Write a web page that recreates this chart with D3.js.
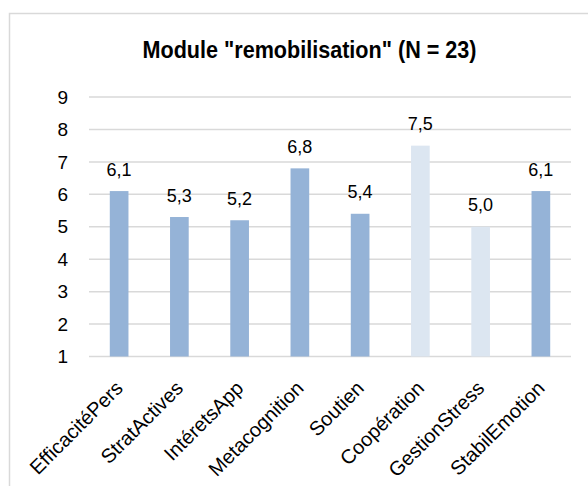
<!DOCTYPE html>
<html>
<head>
<meta charset="utf-8">
<script src="https://cdn.jsdelivr.net/npm/d3@7"></script>
<style>
  body { margin: 0; background: #fff; }
  text { font-family: "Liberation Sans", Arial, sans-serif; fill: #000; }
</style>
</head>
<body>
<div id="chart"></div>
<script>
var categories = ["EfficacitéPers", "StratActives", "IntéretsApp", "Metacognition",
                  "Soutien", "Coopération", "GestionStress", "StabilEmotion"];
var values = [6.1, 5.3, 5.2, 6.8, 5.4, 7.5, 5.0, 6.1];
var highlighted = [false, false, false, false, false, true, true, false];
var yTicks = [1, 2, 3, 4, 5, 6, 7, 8, 9];
var title = 'Module "remobilisation" (N = 23)';

var W = 588, H = 486;
var margin = {top: 97, right: 17, bottom: 129.5, left: 89};
var width = W - margin.left - margin.right,
    height = H - margin.top - margin.bottom;

var svg = d3.select("#chart").append("svg")
    .attr("width", W)
    .attr("height", H);

// chart frame (cut off at right and bottom like the reference)
svg.append("rect")
    .attr("x", 9.5).attr("y", 13.5)
    .attr("width", 600).attr("height", 500)
    .attr("fill", "none")
    .attr("stroke", "#d9d9d9")
    .attr("stroke-width", 1.5);

svg.append("text")
    .attr("x", 309.5)
    .attr("y", 58)
    .attr("text-anchor", "middle")
    .attr("textLength", 334)
    .attr("lengthAdjust", "spacingAndGlyphs")
    .style("font-size", "24px")
    .style("font-weight", "bold")
    .text(title);

var g = svg.append("g")
    .attr("transform", "translate(" + margin.left + "," + margin.top + ")");

var x = d3.scaleBand().domain(categories).range([0, width]).paddingInner(0.69).paddingOuter(0.345),
    y = d3.scaleLinear().domain([1, 9]).range([height, 0]);

// gridlines
g.append("g")
    .selectAll("line")
    .data(yTicks)
    .enter().append("line")
    .attr("x1", 0).attr("x2", width)
    .attr("y1", d => y(d)).attr("y2", d => y(d))
    .attr("stroke", "#d9d9d9")
    .attr("stroke-width", 1.5);

// y labels
g.append("g")
    .selectAll("text")
    .data(yTicks)
    .enter().append("text")
    .attr("x", -21)
    .attr("y", d => y(d))
    .attr("dy", "0.35em")
    .attr("text-anchor", "end")
    .style("font-size", "19px")
    .text(d => d);

g.selectAll(".bar")
    .data(values)
    .enter().append("rect")
    .attr("class", "bar")
    .attr("x", (d, i) => x(categories[i]))
    .attr("width", x.bandwidth())
    .attr("y", d => y(d))
    .attr("height", d => height - y(d))
    .attr("fill", (d, i) => highlighted[i] ? "#dce6f1" : "#95b3d7");

var fmt = d3.format(".1f");
g.selectAll(".lbl")
    .data(values)
    .enter().append("text")
    .attr("class", "lbl")
    .attr("x", (d, i) => x(categories[i]) + x.bandwidth() / 2)
    .attr("y", d => y(d) - 15.5)
    .attr("text-anchor", "middle")
    .style("font-size", "18px")
    .text(d => fmt(d).replace(".", ","));

// rotated category labels
g.selectAll(".cat")
    .data(categories)
    .enter().append("text")
    .attr("class", "cat")
    .attr("transform", d => "translate(" + (x(d) + x.bandwidth() / 2 + 5) + "," + (height + 33) + ") rotate(-45)")
    .attr("text-anchor", "end")
    .style("font-size", "20px")
    .text(d => d);
</script>
</body>
</html>
